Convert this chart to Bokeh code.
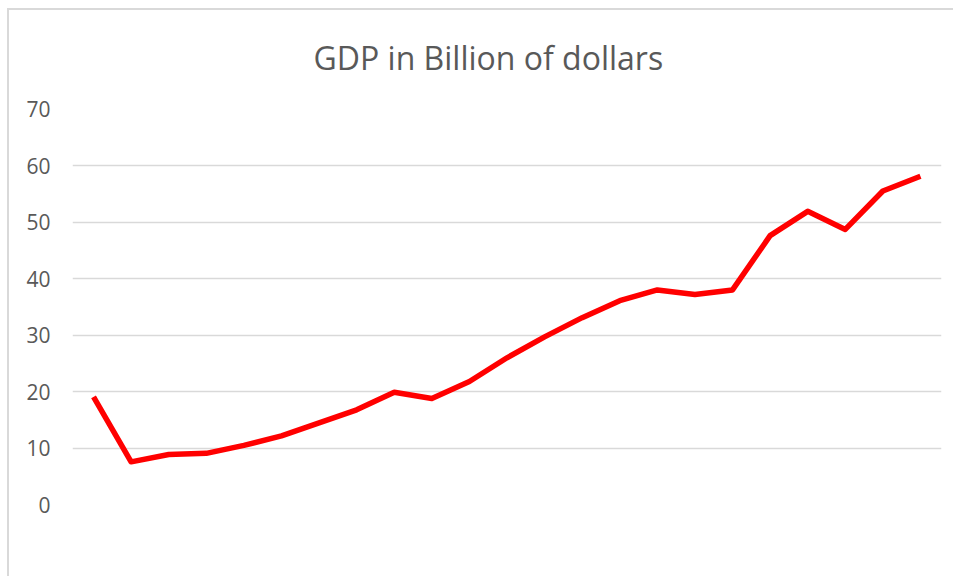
from bokeh.plotting import figure
from bokeh.models import Range1d, FixedTicker, Title
from bokeh.embed import file_html
from bokeh.resources import INLINE

# Data
periods = list(range(23))
gdp_billion = [19.1, 7.6, 8.9, 9.1, 10.5, 12.2, 14.5, 16.8, 19.9, 18.8, 21.8,
               26.0, 29.7, 33.1, 36.1, 38.0, 37.2, 38.0, 47.6, 51.9, 48.7,
               55.5, 58.1]
y_tick_values = [0, 10, 20, 30, 40, 50, 60, 70]
grid_values = [10, 20, 30, 40, 50, 60]
title_text = "GDP in Billion of dollars"

p = figure(width=946, height=568, output_backend="svg", toolbar_location=None,
           x_range=Range1d(-0.56, 22.56), y_range=Range1d(-9.85, 71.5),
           x_axis_location=None, min_border_left=63, min_border_right=14,
           min_border_top=90, min_border_bottom=18)
p.styles = {"margin-left": "9px", "margin-top": "10px",
            "box-shadow": "-2px -2px 0px 0px #d9d9d9",
            "overflow": "hidden", "background-color": "white"}
p.outline_line_color = None
p.background_fill_color = "white"
p.border_fill_color = "white"

t = Title(text=title_text, align="left", offset=241, text_font="Open Sans",
          text_font_size="32px", text_font_style="normal", text_color="#595959",
          standoff=43)
p.add_layout(t, "above")

ax = p.yaxis[0]
ax.ticker = FixedTicker(ticks=y_tick_values)
ax.axis_line_color = None
ax.major_tick_line_color = None
ax.minor_tick_line_color = None
ax.major_tick_in = 0
ax.major_tick_out = 0
ax.major_label_standoff = 22
ax.major_label_text_font = "Open Sans"
ax.major_label_text_font_size = "21px"
ax.major_label_text_color = "#595959"

p.xgrid.visible = False
p.ygrid.ticker = FixedTicker(ticks=grid_values)
p.ygrid.grid_line_color = "#d9d9d9"
p.ygrid.grid_line_width = 1.5

p.line(periods, gdp_billion, line_color="#ff0000", line_width=5.5,
       line_join="round", line_cap="butt")

open("out.html", "w").write(file_html(p, INLINE))
